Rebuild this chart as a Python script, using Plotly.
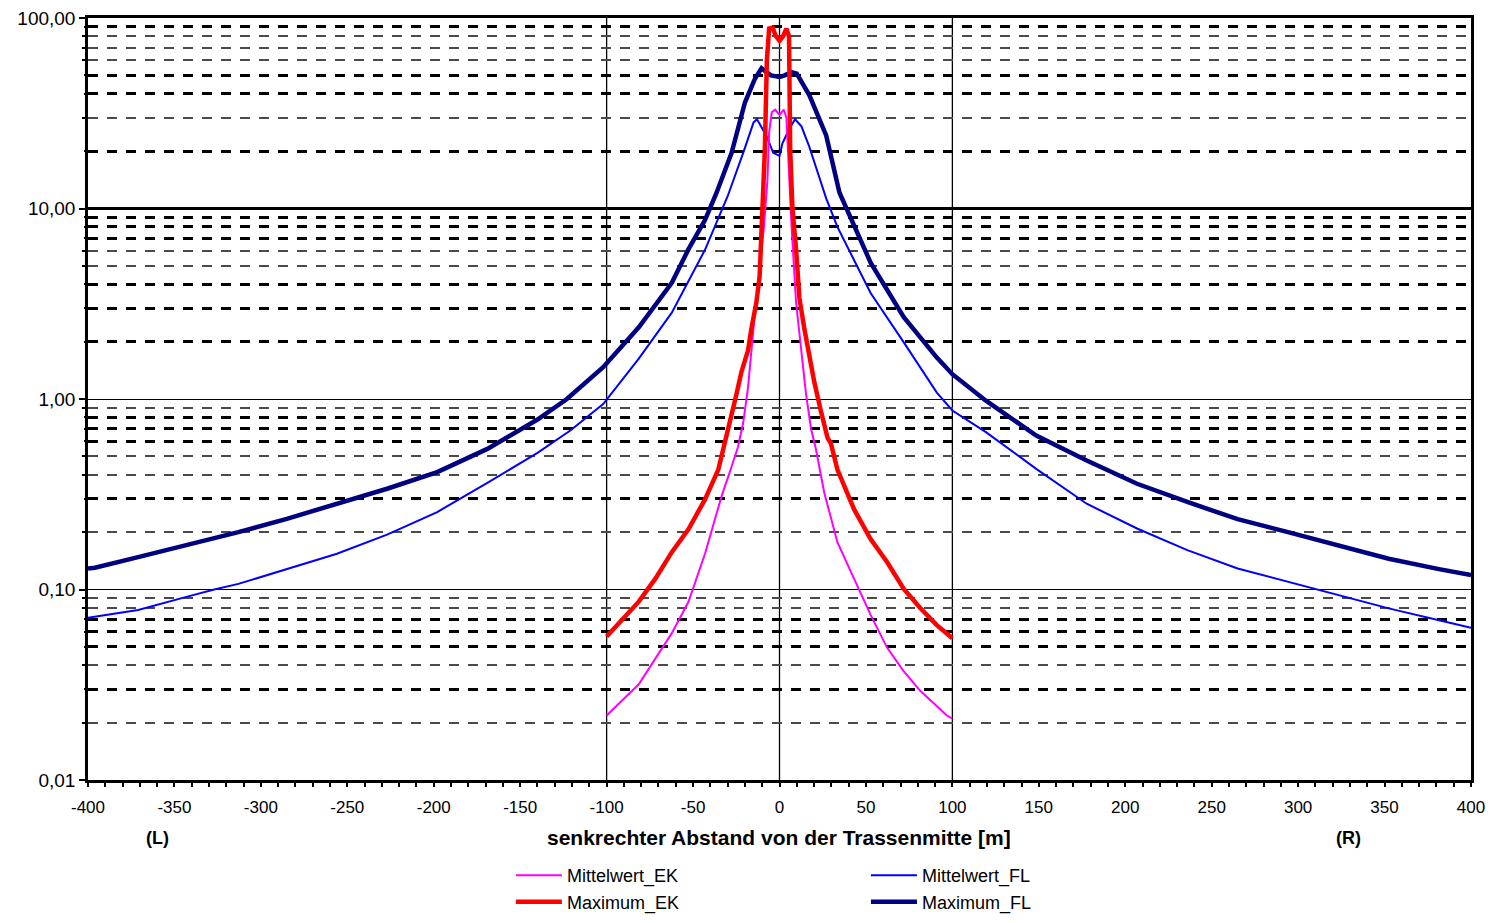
import plotly.graph_objects as go

# ---------------- data ----------------
x_mittel_fl = [-400, -396, -371, -342, -327, -313, -285, -256, -227, -198, -169, -140, -121, -102,
               -81.4, -62.3, -43.1, -30, -21, -15, -13, -7.5, -3.6, 0, 1.7, 5.5, 9, 12.7, 17, 23, 27,
               33.5, 52.7, 71.8, 91, 100, 119.4, 148.5, 177.7, 206.8, 235.9, 265, 294.1, 323.3,
               352.4, 381.5, 400]
y_mittel_fl = [0.071, 0.072, 0.078, 0.092, 0.100, 0.107, 0.128, 0.154, 0.194, 0.255, 0.363, 0.521,
               0.683, 0.94, 1.63, 2.84, 6.07, 11.6, 19.6, 28.3, 29.4, 24, 19.6, 18.9, 22, 26, 29.4,
               27, 21.4, 14.8, 11.3, 8.0, 3.6, 1.99, 1.08, 0.87, 0.67, 0.43, 0.282, 0.209, 0.161,
               0.129, 0.110, 0.0935, 0.0796, 0.069, 0.063]

x_max_fl = [-400, -396, -371, -342, -313, -285, -256, -227, -198, -169, -140, -123, -102, -81.4,
            -62.3, -52.7, -43.1, -36.4, -27.7, -20, -14.2, -10.4, -5, 0, 3, 6.9, 10, 17.3, 27,
            34.7, 52.7, 71.8, 91, 100, 119.4, 148.5, 177.7, 206.8, 235.9, 265, 294.1, 323.3,
            352.4, 381.5, 400]
y_max_fl = [0.129, 0.130, 0.148, 0.172, 0.200, 0.235, 0.280, 0.338, 0.413, 0.547, 0.78, 1.0, 1.47,
            2.38, 4.07, 6.1, 8.7, 12.1, 19.6, 36, 48, 54.5, 50, 49, 50, 52, 51, 39.3, 24.2, 12.1,
            5.2, 2.7, 1.65, 1.35, 0.98, 0.643, 0.476, 0.359, 0.288, 0.234, 0.200, 0.171, 0.145,
            0.128, 0.119]

x_mittel_ek = [-100, -81.4, -62.3, -52.7, -43.1, -33.5, -28.5, -24, -21, -18.2, -14.4, -11.5, -9,
               -7, -6, -4.5, -2.5, 0, 2.5, 4, 5.5, 7, 9.6, 12.5, 15.3, 18.2, 21, 25.9, 33.5, 43.1,
               52.7, 62.3, 71.8, 81.4, 96.8, 100]
y_mittel_ek = [0.0218, 0.0318, 0.059, 0.086, 0.154, 0.309, 0.42, 0.56, 0.75, 1.15, 2.73, 5, 8, 14,
               25, 32, 33, 31, 33, 30, 15, 8, 3.2, 1.87, 1.07, 0.70, 0.55, 0.322, 0.177, 0.114,
               0.0736, 0.0494, 0.0373, 0.0294, 0.0218, 0.021]

x_max_ek = [-100, -81.4, -71.8, -62.3, -52.7, -43.1, -35.4, -31.6, -28, -25, -22, -18.2, -16.3,
            -13.4, -11.5, -9.5, -8.5, -7.3, -6, -4, -2, 0, 2, 4, 5.5, 6.2, 7.5, 9.6, 11.5, 14.4,
            17.2, 20.1, 24, 27.8, 29.7, 33.5, 43.1, 52.7, 62.3, 71.8, 81.4, 91, 100]
y_max_ek = [0.0567, 0.0863, 0.114, 0.157, 0.207, 0.297, 0.426, 0.586, 0.83, 1.05, 1.39, 1.8, 2.33,
            3.2, 4.4, 12, 20, 60, 88, 89, 80, 76, 80, 88, 80, 20, 10, 6.1, 3.4, 2.33, 1.69, 1.23,
            0.86, 0.625, 0.586, 0.426, 0.264, 0.184, 0.139, 0.101, 0.080, 0.065, 0.0555]

x_tick_vals = list(range(-400, 401, 50))
x_tick_text = [str(v) for v in x_tick_vals]
y_tick_vals = [0.01, 0.1, 1, 10, 100]
y_tick_text = ["0,01", "0,10", "1,00", "10,00", "100,00"]
minor_thin = [0.02, 0.04, 0.08, 0.09, 0.2, 0.4, 0.5, 0.9, 5, 6, 30, 60, 70, 80]
minor_thick = [0.03, 0.05, 0.06, 0.07, 0.3, 0.6, 0.7, 0.8, 2, 3, 4, 7, 8, 9, 20, 40, 50, 90]
x_vlines = [-100, 0, 100]

FONT = "Liberation Sans, Arial, sans-serif"

fig = go.Figure()
fig.add_trace(go.Scatter(x=x_mittel_fl, y=y_mittel_fl, name="Mittelwert_FL", mode="lines",
                         line=dict(color="#0000FF", width=2), legend="legend2", yaxis="y",
                         legendgroup="g1"))
fig.add_trace(go.Scatter(x=x_max_fl, y=y_max_fl, name="Maximum_FL", mode="lines",
                         line=dict(color="#000080", width=4.5), legend="legend2", yaxis="y",
                         legendgroup="g2"))
fig.add_trace(go.Scatter(x=x_mittel_ek, y=y_mittel_ek, name="Mittelwert_EK", mode="lines",
                         line=dict(color="#FF00FF", width=2), legend="legend", yaxis="y2",
                         legendgroup="g3"))
fig.add_trace(go.Scatter(x=x_max_ek, y=y_max_ek, name="Maximum_EK", mode="lines",
                         line=dict(color="#FF0000", width=4.5), legend="legend", yaxis="y2",
                         legendgroup="g4"))

for xv in x_vlines:
    fig.add_vline(x=xv, line=dict(color="black", width=1.3), layer="below")

dash = "10px,9px"
legend_common = dict(yref="container", yanchor="top", orientation="v",
                     bgcolor="rgba(0,0,0,0)", font=dict(size=18, family=FONT),
                     tracegroupgap=2, traceorder="normal", itemwidth=46)
fig.update_layout(
    width=1478, height=907,
    margin=dict(l=80, r=15, t=10, b=135, autoexpand=False),
    paper_bgcolor="white", plot_bgcolor="white",
    font=dict(family=FONT, size=17, color="black"),
    xaxis=dict(range=[-400, 400], tickmode="array", tickvals=x_tick_vals, ticktext=x_tick_text,
               ticks="outside", ticklen=4, tickwidth=2, tickcolor="black",
               showgrid=False, zeroline=False, showline=True, linewidth=2.5,
               linecolor="black", mirror=True, tickfont=dict(size=17, family=FONT),
               ticklabelstandoff=6, ticklabeloverflow="allow",
               minor=dict(dtick=10, ticks="outside", ticklen=4, tickwidth=2,
                          tickcolor="black", showgrid=False)),
    yaxis=dict(type="log", range=[-2, 2], tickmode="array", tickvals=y_tick_vals,
               ticktext=y_tick_text, showgrid=True, gridcolor="black", gridwidth=1.3,
               ticks="outside", ticklen=6, tickwidth=2, tickcolor="black",
               showline=True, linecolor="black", linewidth=2.5, mirror=True, zeroline=False,
               tickfont=dict(size=19, family=FONT), ticklabeloverflow="allow",
               minor=dict(tickmode="array", tickvals=minor_thin, ticks="outside", ticklen=3,
                          tickwidth=2, tickcolor="black", showgrid=True, gridcolor="#4a4a4a",
                          gridwidth=2, griddash=dash)),
    yaxis2=dict(type="log", range=[-2, 2], overlaying="y", tickmode="array", tickvals=[10],
                showticklabels=False, showgrid=True, gridcolor="black", gridwidth=2.6,
                ticks="", showline=False, zeroline=False,
                minor=dict(tickmode="array", tickvals=minor_thick, ticks="outside", ticklen=3,
                           tickwidth=2, tickcolor="black", showgrid=True, gridcolor="black",
                           gridwidth=3, griddash=dash)),
    legend=dict(x=0.3058, y=0.0639, xanchor="left", **legend_common),
    legend2=dict(x=0.5625, y=0.0639, xanchor="left", **legend_common),
    showlegend=True,
    annotations=[
        dict(text="senkrechter Abstand von der Trassenmitte [m]", xref="paper", yref="paper",
             x=0.4995, y=-0.0761, xanchor="center", yanchor="middle", showarrow=False,
             font=dict(size=21, family=FONT, color="black", weight="bold")),
        dict(text="(L)", xref="x", yref="paper", x=-360, y=-0.0761, xanchor="center",
             yanchor="middle", showarrow=False,
             font=dict(size=18, family=FONT, color="black", weight="bold")),
        dict(text="(R)", xref="x", yref="paper", x=329, y=-0.0761, xanchor="center",
             yanchor="middle", showarrow=False,
             font=dict(size=18, family=FONT, color="black", weight="bold")),
    ],
)

fig.write_html("out.html")
